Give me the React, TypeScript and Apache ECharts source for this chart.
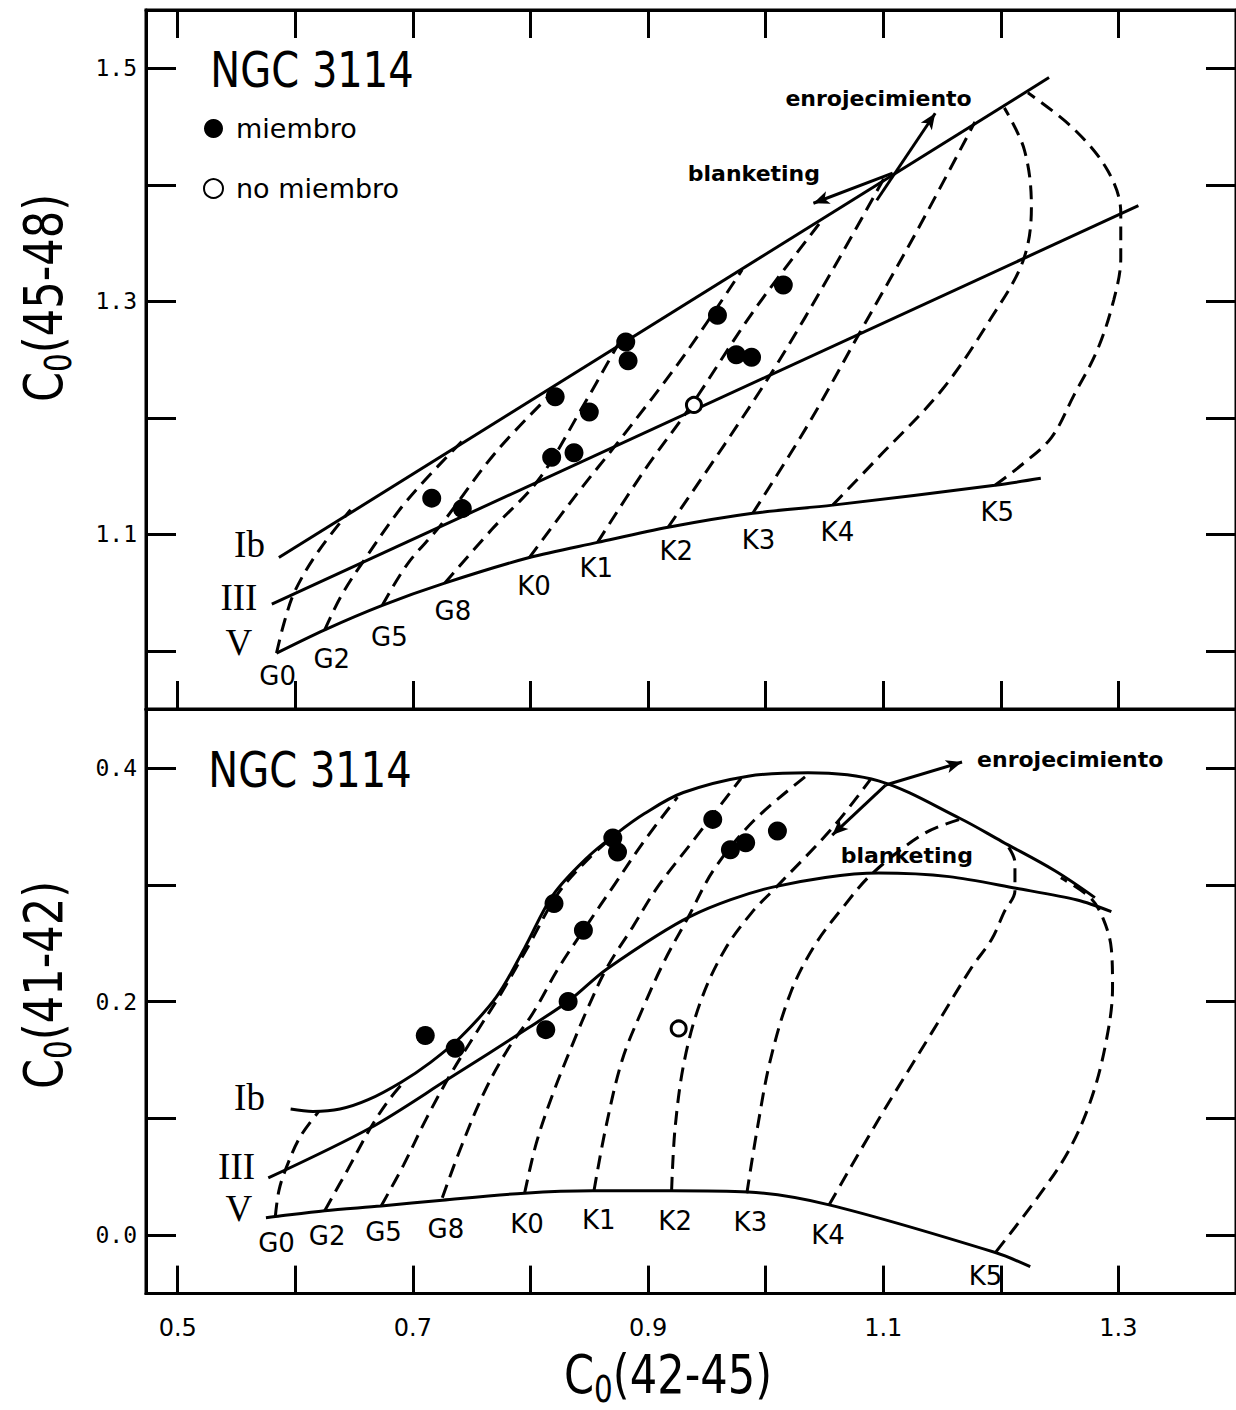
import React, { useEffect, useRef } from 'react';
import * as echarts from 'echarts';

// ---------- axes ----------
const xTicks = [0.5, 0.6, 0.7, 0.8, 0.9, 1.0, 1.1, 1.2, 1.3];
const xLabels = [0.5, 0.7, 0.9, 1.1, 1.3];
const yTopTicks = [1.0, 1.1, 1.2, 1.3, 1.4, 1.5];
const yTopLabels = [1.1, 1.3, 1.5];
const yBotTicks = [0.0, 0.1, 0.2, 0.3, 0.4];
const yBotLabels = [0.0, 0.2, 0.4];

const spectralTypes = ['G0', 'G2', 'G5', 'G8', 'K0', 'K1', 'K2', 'K3', 'K4', 'K5'];
const classNames = ['Ib', 'III', 'V'];

// ---------- upper panel: C0(45-48) vs C0(42-45) ----------
const topIb = [[0.586, 1.080], [1.241, 1.492]];
const topIII = [[0.580, 1.040], [1.317, 1.382]];
const topV = [[0.584, 0.998], [0.625, 1.018], [0.674, 1.039], [0.727, 1.058], [0.799, 1.080], [0.857, 1.093], [0.917, 1.106], [0.989, 1.118], [1.057, 1.125], [1.195, 1.142], [1.234, 1.148]];
const topTypeLines = [
  [[0.584, 0.998], [0.591, 1.026], [0.600, 1.052], [0.620, 1.086], [0.647, 1.121]],
  [[0.625, 1.018], [0.639, 1.047], [0.658, 1.077], [0.695, 1.129], [0.743, 1.181]],
  [[0.674, 1.039], [0.695, 1.074], [0.723, 1.107], [0.771, 1.171], [0.822, 1.225]],
  [[0.727, 1.058], [0.767, 1.104], [0.807, 1.147], [0.843, 1.207], [0.875, 1.264]],
  [[0.799, 1.080], [0.839, 1.134], [0.876, 1.181], [0.931, 1.254], [0.980, 1.327]],
  [[0.857, 1.093], [0.897, 1.155], [0.937, 1.211], [0.990, 1.292], [1.049, 1.371]],
  [[0.917, 1.106], [0.965, 1.177], [1.009, 1.245], [1.057, 1.327], [1.102, 1.408]],
  [[0.989, 1.118], [1.036, 1.194], [1.080, 1.273], [1.129, 1.361], [1.178, 1.454]],
  [[1.057, 1.125], [1.094, 1.164], [1.150, 1.224], [1.192, 1.286], [1.219, 1.335], [1.226, 1.381], [1.220, 1.430], [1.203, 1.466]],
  [[1.195, 1.142], [1.217, 1.159], [1.243, 1.183], [1.262, 1.219], [1.282, 1.258], [1.296, 1.301], [1.302, 1.337], [1.302, 1.376], [1.291, 1.412], [1.262, 1.448], [1.223, 1.479]],
];
const topTypeLabelPos = [[0.585, 0.978], [0.631, 0.993], [0.680, 1.012], [0.734, 1.034], [0.803, 1.056], [0.856, 1.071], [0.924, 1.086], [0.994, 1.095], [1.061, 1.102], [1.197, 1.119]];
const topClassLabelPos = [[0.561, 1.091], [0.552, 1.046], [0.552, 1.007]];
const topMembers = [[0.716, 1.131], [0.742, 1.122], [0.821, 1.218], [0.818, 1.166], [0.837, 1.170], [0.850, 1.205], [0.881, 1.265], [0.883, 1.249], [0.959, 1.288], [0.975, 1.254], [0.988, 1.252], [1.015, 1.314]];
const topNonMembers = [[0.939, 1.211]];
const topReddening = [[1.0945, 1.3867], [1.1442, 1.4614]];
const topBlanketing = [[1.108, 1.4099], [1.0406, 1.3841]];
const topNotes = [
  { text: 'enrojecimiento', pos: [1.096, 1.474] },
  { text: 'blanketing', pos: [0.990, 1.410] },
];

// ---------- lower panel: C0(41-42) vs C0(42-45) ----------
const botIb = [[0.596, 0.108], [0.615, 0.106], [0.638, 0.108], [0.662, 0.116], [0.690, 0.131], [0.715, 0.148], [0.740, 0.169], [0.771, 0.204], [0.795, 0.246], [0.819, 0.291], [0.849, 0.324], [0.872, 0.343], [0.897, 0.361], [0.930, 0.379], [0.985, 0.393], [1.036, 0.396], [1.096, 0.389], [1.165, 0.357], [1.201, 0.337], [1.246, 0.312], [1.280, 0.289]];
const botIII = [[0.577, 0.049], [0.664, 0.092], [0.729, 0.133], [0.799, 0.178], [0.833, 0.201], [0.865, 0.228], [0.936, 0.273], [1.006, 0.298], [1.096, 0.310], [1.156, 0.307], [1.213, 0.297], [1.265, 0.287], [1.294, 0.277]];
const botV = [[0.575, 0.015], [0.583, 0.016], [0.625, 0.021], [0.673, 0.025], [0.725, 0.030], [0.795, 0.036], [0.853, 0.038], [0.920, 0.038], [0.985, 0.037], [1.054, 0.026], [1.196, -0.015], [1.225, -0.027]];
const botTypeLines = [
  [[0.583, 0.016], [0.586, 0.038], [0.592, 0.057], [0.604, 0.084], [0.620, 0.106]],
  [[0.625, 0.021], [0.645, 0.057], [0.664, 0.092], [0.679, 0.115], [0.693, 0.132]],
  [[0.673, 0.025], [0.692, 0.060], [0.711, 0.099], [0.731, 0.136], [0.753, 0.172], [0.775, 0.207], [0.799, 0.249], [0.823, 0.292], [0.849, 0.322], [0.872, 0.343]],
  [[0.725, 0.032], [0.740, 0.073], [0.760, 0.121], [0.780, 0.158], [0.802, 0.190], [0.824, 0.229], [0.847, 0.264], [0.872, 0.301], [0.897, 0.338], [0.925, 0.375]],
  [[0.795, 0.036], [0.805, 0.079], [0.819, 0.121], [0.836, 0.164], [0.849, 0.195], [0.865, 0.229], [0.887, 0.264], [0.908, 0.298], [0.937, 0.336], [0.979, 0.391]],
  [[0.854, 0.038], [0.864, 0.092], [0.878, 0.150], [0.895, 0.193], [0.914, 0.235], [0.934, 0.272], [0.956, 0.313], [0.990, 0.355], [1.038, 0.396]],
  [[0.920, 0.038], [0.923, 0.092], [0.931, 0.150], [0.945, 0.201], [0.965, 0.244], [0.988, 0.276], [1.009, 0.298], [1.057, 0.349], [1.089, 0.390]],
  [[0.984, 0.036], [0.993, 0.092], [1.004, 0.150], [1.021, 0.207], [1.041, 0.247], [1.066, 0.281], [1.091, 0.310], [1.135, 0.344], [1.165, 0.356]],
  [[1.054, 0.026], [1.096, 0.099], [1.141, 0.173], [1.175, 0.229], [1.192, 0.253], [1.203, 0.277], [1.212, 0.295], [1.212, 0.319], [1.204, 0.336]],
  [[1.196, -0.014], [1.231, 0.032], [1.257, 0.071], [1.276, 0.114], [1.289, 0.163], [1.295, 0.212], [1.294, 0.245], [1.287, 0.271], [1.276, 0.289], [1.251, 0.306]],
];
const botTypeLabelPos = [[0.584, -0.007], [0.627, -0.001], [0.675, 0.003], [0.728, 0.005], [0.797, 0.010], [0.858, 0.013], [0.923, 0.012], [0.987, 0.011], [1.053, 0.000], [1.187, -0.035]];
const botClassLabelPos = [[0.561, 0.118], [0.550, 0.059], [0.552, 0.023]];
const botMembers = [[0.7105, 0.171], [0.736, 0.160], [0.820, 0.284], [0.845, 0.261], [0.832, 0.200], [0.813, 0.176], [0.870, 0.340], [0.874, 0.328], [0.955, 0.356], [0.970, 0.330], [0.983, 0.336], [1.010, 0.346]];
const botNonMembers = [[0.926, 0.177]];
const botReddening = [[1.102, 0.3854], [1.167, 0.4051]];
const botBlanketing = [[1.102, 0.3854], [1.0566, 0.3426]];
const botNotes = [
  { text: 'enrojecimiento', pos: [1.259, 0.407] },
  { text: 'blanketing', pos: [1.120, 0.325] },
];

const BLACK = '#000';
const SANS = 'DejaVu Sans';

function axisX(gridIndex: number, position: string, labels: boolean) {
  return {
    type: 'value', gridIndex, position, min: 0.473, max: 1.4,
    axisLine: { show: true, onZero: false, lineStyle: { color: BLACK, width: 3 } },
    axisTick: { show: true, inside: true, length: 28, lineStyle: { color: BLACK, width: 3 }, customValues: xTicks },
    axisLabel: {
      show: labels, customValues: xLabels, margin: 22, color: BLACK, fontSize: 24, fontFamily: SANS,
      formatter: (v: number) => v.toFixed(1),
    },
    splitLine: { show: false },
  };
}
function axisY(gridIndex: number, position: string, min: number, max: number, ticks: number[], labels: number[] | null) {
  return {
    type: 'value', gridIndex, position, min, max,
    axisLine: { show: true, onZero: false, lineStyle: { color: BLACK, width: 3 } },
    axisTick: { show: true, inside: true, length: 30, lineStyle: { color: BLACK, width: 3 }, customValues: ticks },
    axisLabel: {
      show: !!labels, customValues: labels || [], margin: 9, color: BLACK, fontSize: 23, fontFamily: 'DejaVu Sans Mono',
      formatter: (v: number) => v.toFixed(1),
    },
    splitLine: { show: false },
  };
}

function line(data: number[][], panel: number, dashed: boolean, smooth: number | boolean, extra: any = {}) {
  return {
    type: 'line', xAxisIndex: panel === 0 ? 0 : 2, yAxisIndex: panel === 0 ? 0 : 2,
    data, symbol: 'none', showSymbol: false, smooth, silent: true, z: 2,
    lineStyle: { color: BLACK, width: 3, type: dashed ? [14, 8] : 'solid', opacity: 1 },
    ...extra,
  };
}
function arrows(pairs: number[][][]) {
  return {
    silent: true, symbol: ['none', 'arrow'], symbolSize: [10, 16], label: { show: false },
    lineStyle: { color: BLACK, width: 3, type: 'solid', opacity: 1 },
    itemStyle: { color: BLACK, opacity: 1 },
    emphasis: { disabled: true },
    data: pairs.map((p) => [{ coord: p[0] }, { coord: p[1] }]),
  };
}
function labels(panel: number, items: { name: string; value: number[] }[], font: any) {
  return {
    type: 'scatter', xAxisIndex: panel === 0 ? 0 : 2, yAxisIndex: panel === 0 ? 0 : 2,
    symbol: 'circle', symbolSize: 0.1, silent: true, z: 3,
    itemStyle: { color: 'rgba(255,255,255,0)', opacity: 1 },
    label: { show: true, position: 'inside', formatter: '{b}', color: BLACK, opacity: 1, textBorderWidth: 0, ...font },
    emphasis: { disabled: true },
    data: items,
  };
}
function dots(panel: number, data: number[][], filled: boolean) {
  return {
    type: 'scatter', name: filled ? 'miembro' : 'no miembro',
    xAxisIndex: panel === 0 ? 0 : 2, yAxisIndex: panel === 0 ? 0 : 2,
    symbol: 'circle', symbolSize: filled ? 19 : 15, z: 5, silent: true,
    itemStyle: filled ? { color: BLACK, opacity: 1 } : { color: '#fff', borderColor: BLACK, borderWidth: 3, opacity: 1 },
    data,
  };
}

function buildSeries() {
  const s: any[] = [];
  const panels = [
    { ib: topIb, iii: topIII, v: topV, types: topTypeLines, tl: topTypeLabelPos, cl: topClassLabelPos, m: topMembers, nm: topNonMembers, red: topReddening, bl: topBlanketing, notes: topNotes, straight: true },
    { ib: botIb, iii: botIII, v: botV, types: botTypeLines, tl: botTypeLabelPos, cl: botClassLabelPos, m: botMembers, nm: botNonMembers, red: botReddening, bl: botBlanketing, notes: botNotes, straight: false },
  ];
  panels.forEach((p, i) => {
    s.push(line(p.ib, i, false, p.straight ? false : 0.35, { markLine: arrows([p.red, p.bl]) }));
    s.push(line(p.iii, i, false, p.straight ? false : 0.3));
    s.push(line(p.v, i, false, 0.3));
    p.types.forEach((t) => s.push(line(t, i, true, 0.35)));
    s.push(labels(i, spectralTypes.map((n, k) => ({ name: n, value: p.tl[k] })), { fontSize: 26, fontFamily: SANS }));
    s.push(labels(i, classNames.map((n, k) => ({ name: n, value: p.cl[k] })), { fontSize: 37, fontFamily: 'Liberation Serif' }));
    s.push(labels(i, p.notes.map((n) => ({ name: n.text, value: n.pos })), { fontSize: 22, fontWeight: 'bold', fontFamily: SANS }));
    s.push(dots(i, p.m, true));
    s.push(dots(i, p.nm, false));
  });
  return s;
}

function titleRich(fs: number) {
  return {
    c: { fontSize: fs, lineHeight: fs * 1.2, fontFamily: SANS, fill: BLACK },
    s: { fontSize: fs * 0.68, lineHeight: fs * 0.45, verticalAlign: 'bottom', fontFamily: SANS, fill: BLACK },
  };
}
function title(text: string, x: number, y: number, rotated: boolean) {
  return {
    type: 'text', x, y, rotation: rotated ? Math.PI / 2 : 0, scaleX: 0.8, silent: true,
    style: { text, rich: titleRich(54), fill: BLACK, align: 'center', verticalAlign: 'middle', textAlign: 'center', textVerticalAlign: 'middle' },
  };
}
function ngc(x: number, y: number) {
  return {
    type: 'text', x, y, scaleX: 0.8, silent: true,
    style: { text: 'NGC 3114', fontSize: 50, fontFamily: SANS, fill: BLACK, align: 'center', verticalAlign: 'middle', textAlign: 'center', textVerticalAlign: 'middle' },
  };
}

export default function App() {
  const ref = useRef<HTMLDivElement>(null);
  useEffect(() => {
    if (!ref.current) return;
    const chart = echarts.init(ref.current, undefined, { renderer: 'svg' });
    const option: any = {
      animation: false,
      backgroundColor: '#fff',
      grid: [
        { left: 146, top: 10, width: 1101, height: 699, show: true, borderColor: BLACK, borderWidth: 3, backgroundColor: 'transparent' },
        { left: 146, top: 709.6, width: 1101, height: 584, show: true, borderColor: BLACK, borderWidth: 3, backgroundColor: 'transparent' },
      ],
      xAxis: [axisX(0, 'bottom', false), axisX(0, 'top', false), axisX(1, 'bottom', true)],
      yAxis: [
        axisY(0, 'left', 0.95, 1.55, yTopTicks, yTopLabels),
        axisY(0, 'right', 0.95, 1.55, yTopTicks, null),
        axisY(1, 'left', -0.05, 0.45, yBotTicks, yBotLabels),
        axisY(1, 'right', -0.05, 0.45, yBotTicks, null),
      ],
      legend: {
        data: [{ name: 'miembro', icon: 'circle' }, { name: 'no miembro', icon: 'circle' }],
        orient: 'vertical', left: 203, top: 115, itemWidth: 19, itemHeight: 19, itemGap: 33,
        selectedMode: false, padding: 0,
        textStyle: { fontSize: 27, fontFamily: SANS, color: BLACK, padding: [0, 0, 0, 8] },
      },
      graphic: [
        ngc(312, 70),
        ngc(310, 770),
        title('{c|C}{s|0}{c|(45-48)}', 44, 298, true),
        title('{c|C}{s|0}{c|(41-42)}', 44, 985, true),
        title('{c|C}{s|0}{c|(42-45)}', 668, 1375, false),
      ],
      series: buildSeries(),
    };
    chart.setOption(option);
    return () => chart.dispose();
  }, []);
  return <div ref={ref} style={{ position: 'absolute', left: 0, top: 0, width: 1236, height: 1410, background: '#fff' }} />;
}
